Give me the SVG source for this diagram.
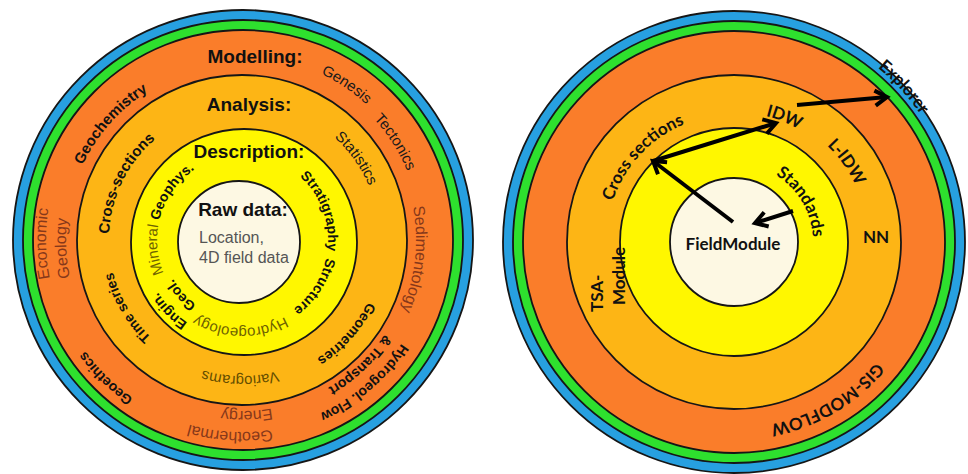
<svg xmlns="http://www.w3.org/2000/svg" xmlns:xlink="http://www.w3.org/1999/xlink" width="968" height="474" viewBox="0 0 968 474">
<style>
.ring{stroke:#161616;stroke-width:1.8}
.blue{fill:#27A0E0}.green{fill:#2EE02E}.orange{fill:#FA7D2A}.oy{fill:#FDB515}.yel{fill:#FFF700}.cream{fill:#FDF8E3}
.lb{font-family:"Liberation Sans",Arial,sans-serif;font-weight:bold;fill:#111}
.lr{font-family:"Liberation Sans",Arial,sans-serif;fill:#1a1a1a}
.brown{font-family:"Liberation Sans",Arial,sans-serif;fill:#86381A;font-size:16px}
.olive{font-family:"Liberation Sans",Arial,sans-serif;fill:#6E6200;font-size:15px}
.rb{font-family:Lato,"Liberation Sans",Arial,sans-serif;font-weight:bold;font-size:17px;fill:#111}
.arrow{stroke:#000;stroke-width:4;fill:none;marker-end:url(#chev)}
</style>
<defs>
<marker id="chev" markerUnits="userSpaceOnUse" markerWidth="18" markerHeight="18" viewBox="0 0 18 18" refX="16" refY="9" orient="auto" overflow="visible">
<path d="M4,1.5 L16,9 L4,16.5" fill="none" stroke="#000" stroke-width="4"/>
</marker>
<path id="L184" d="M242,56 A184,184 0 1 1 242,424 A184,184 0 1 1 242,56"/>
<path id="L179" d="M242,61 A179,179 0 1 1 242,419 A179,179 0 1 1 242,61"/>
<path id="L174" d="M242,66 A174,174 0 1 1 242,414 A174,174 0 1 1 242,66"/>
<path id="L190" d="M242,50 A190,190 0 1 1 242,430 A190,190 0 1 1 242,50"/>
<path id="L171" d="M242,69 A171,171 0 1 1 242,411 A171,171 0 1 1 242,69"/>
<path id="L140" d="M242,100 A140,140 0 1 1 242,380 A140,140 0 1 1 242,100"/>
<path id="L86" d="M242,154 A86,86 0 1 1 242,326 A86,86 0 1 1 242,154"/>
<path id="L85" d="M242,155 A85,85 0 1 1 242,325 A85,85 0 1 1 242,155"/>
<path id="L88" d="M242,152 A88,88 0 1 1 242,328 A88,88 0 1 1 242,152"/>
<path id="L138" d="M242,102 A138,138 0 1 1 242,378 A138,138 0 1 1 242,102"/>
<path id="L133" d="M242,107 A133,133 0 1 1 242,373 A133,133 0 1 1 242,107"/>
<path id="L136" d="M242,104 A136,136 0 1 1 242,376 A136,136 0 1 1 242,104"/>
<path id="L192" d="M242,48 A192,192 0 1 1 242,432 A192,192 0 1 1 242,48"/>
<path id="L99" d="M242,141 A99,99 0 1 1 242,339 A99,99 0 1 1 242,141"/>
<path id="L79" d="M242,161 A79,79 0 1 1 242,319 A79,79 0 1 1 242,161"/>
<path id="L176" d="M242,64 A176,176 0 1 1 242,416 A176,176 0 1 1 242,64"/>
<path id="L196" d="M242,44 A196,196 0 1 1 242,436 A196,196 0 1 1 242,44"/>
<path id="R128" d="M734,114 A128,128 0 1 1 734,370 A128,128 0 1 1 734,114"/>
<path id="R130" d="M734,112 A130,130 0 1 1 734,372 A130,130 0 1 1 734,112"/>
<path id="R134" d="M734,108 A134,134 0 1 1 734,376 A134,134 0 1 1 734,108"/>
<path id="R79" d="M734,163 A79,79 0 1 1 734,321 A79,79 0 1 1 734,163"/>
<path id="R186" d="M734,56 A186,186 0 1 1 734,428 A186,186 0 1 1 734,56"/>
<path id="R226" d="M734,16 A226,226 0 1 1 734,468 A226,226 0 1 1 734,16"/>
</defs>
<rect width="968" height="474" fill="#fff"/>

<g id="left-rings">
<circle class="ring blue" cx="243" cy="240" r="230"/>
<circle class="ring green" cx="243" cy="240" r="220"/>
<circle class="ring orange" cx="243" cy="240" r="210"/>
<circle class="ring oy" cx="242" cy="240" r="165"/>
<circle class="ring yel" cx="244" cy="242" r="113"/>
<circle class="ring cream" cx="239" cy="242" r="61"/>
</g>

<g id="modelling">
<text class="lb" x="255" y="63" font-size="19" text-anchor="middle">Modelling:</text>
<text class="lr" font-size="15"><textPath href="#L184" startOffset="9.44%" text-anchor="middle">Genesis</textPath></text>
<text class="lr" font-size="15"><textPath href="#L179" startOffset="15.94%" text-anchor="middle">Tectonics</textPath></text>
<text class="brown"><textPath href="#L174" startOffset="26.78%" text-anchor="middle">Sedimentology</textPath></text>
<text class="lb" font-size="14"><textPath href="#L190" startOffset="34.17%">Hydrogeol. Flow</textPath></text>
<text class="lb" font-size="14"><textPath href="#L171" startOffset="34.3%">&amp; Transport</textPath></text>
<text class="brown"><textPath href="#L192" startOffset="47.5%">Geothermal</textPath></text>
<text class="brown"><textPath href="#L171" startOffset="47.22%">Energy</textPath></text>
<text class="lb" font-size="14"><textPath href="#L192" startOffset="62.39%" text-anchor="middle">Geoethics</textPath></text>
<text class="brown"><textPath href="#L196" startOffset="71.86%">Economic</textPath></text>
<text class="brown"><textPath href="#L176" startOffset="71.56%">Geology</textPath></text>
<text class="lb" font-size="15"><textPath href="#L176" startOffset="86.5%" text-anchor="middle">Geochemistry</textPath></text>
</g>

<g id="analysis">
<text class="lb" x="249" y="111" font-size="19" text-anchor="middle">Analysis:</text>
<text class="lr" font-size="15"><textPath href="#L138" startOffset="15.11%" text-anchor="middle">Statistics</textPath></text>
<text class="lb" font-size="14"><textPath href="#L140" startOffset="36.67%" text-anchor="middle">Geometries</textPath></text>
<text class="olive" style="fill:#654E00"><textPath href="#L136" startOffset="50.22%" text-anchor="middle">Variograms</textPath></text>
<text class="lb" font-size="14"><textPath href="#L133" startOffset="66.53%" text-anchor="middle">Time series</textPath></text>
<text class="lb" font-size="15"><textPath href="#L133" startOffset="82.22%" text-anchor="middle">Cross-sections</textPath></text>
</g>

<g id="description">
<text class="lb" x="249" y="158" font-size="19" text-anchor="middle">Description:</text>
<text class="lb" font-size="14"><textPath href="#L86" startOffset="19.36%" text-anchor="middle">Stratigraphy</textPath></text>
<text class="lb" font-size="14"><textPath href="#L86" startOffset="34.08%" text-anchor="middle">Structure</textPath></text>
<text class="olive"><textPath href="#L88" startOffset="50.28%" text-anchor="middle">Hydrogeology</textPath></text>
<text class="lb" font-size="14"><textPath href="#L99" startOffset="62.72%" text-anchor="middle">Engin.</textPath></text>
<text class="lb" font-size="14"><textPath href="#L79" startOffset="63.33%" text-anchor="middle">Geol.</textPath></text>
<text class="olive"><textPath href="#L85" startOffset="68.61%">Mineral <tspan class="lb" font-size="14">Geophys.</tspan></textPath></text>
</g>

<g id="raw-data">
<text class="lb" x="243" y="216" font-size="19" text-anchor="middle">Raw data:</text>
<text class="lr" x="199" y="243" font-size="16" style="fill:#555">Location,</text>
<text class="lr" x="199" y="263" font-size="16" style="fill:#555">4D field data</text>
</g>

<g id="right-rings">
<circle class="ring blue" cx="734" cy="242" r="231"/>
<circle class="ring green" cx="734" cy="242" r="221"/>
<circle class="ring orange" cx="734" cy="242" r="211"/>
<circle class="ring oy" cx="734" cy="242" r="167"/>
<circle class="ring yel" cx="734" cy="242" r="114"/>
<circle class="ring cream" cx="734" cy="242" r="64"/>
</g>

<g id="fieldmodule"><text class="rb" x="733" y="250" text-anchor="middle">FieldModule</text></g>
<g id="standards"><text class="rb"><textPath href="#R79" startOffset="16.44%" text-anchor="middle">Standards</textPath></text></g>
<g id="cross-sections"><text class="rb"><textPath href="#R128" startOffset="86.92%" text-anchor="middle">Cross sections</textPath></text></g>
<g id="idw"><text class="rb"><textPath href="#R130" startOffset="6.11%" text-anchor="middle">IDW</textPath></text></g>
<g id="l-idw"><text class="rb"><textPath href="#R134" startOffset="15.17%" text-anchor="middle">L-IDW</textPath></text></g>
<g id="nn"><text class="rb" x="876" y="243" text-anchor="middle">NN</text></g>
<g id="tsa-module">
<text class="rb" transform="translate(603,312) rotate(-90)">TSA-</text>
<text class="rb" transform="translate(625,305) rotate(-90)">Module</text>
</g>
<g id="gis-modflow"><text class="rb"><textPath href="#R186" startOffset="41.53%" text-anchor="middle">GIS-MODFLOW</textPath></text></g>
<g id="explorer"><text class="rb"><textPath href="#R226" startOffset="13.22%" text-anchor="middle">Explorer</textPath></text></g>

<g id="connectors">
<path class="arrow" d="M733,222 L653,161"/>
<path class="arrow" d="M653,161 L776,123"/>
<path class="arrow" d="M797,105 L887,97"/>
<path class="arrow" d="M793,211 L755,223"/>
</g>
</svg>
